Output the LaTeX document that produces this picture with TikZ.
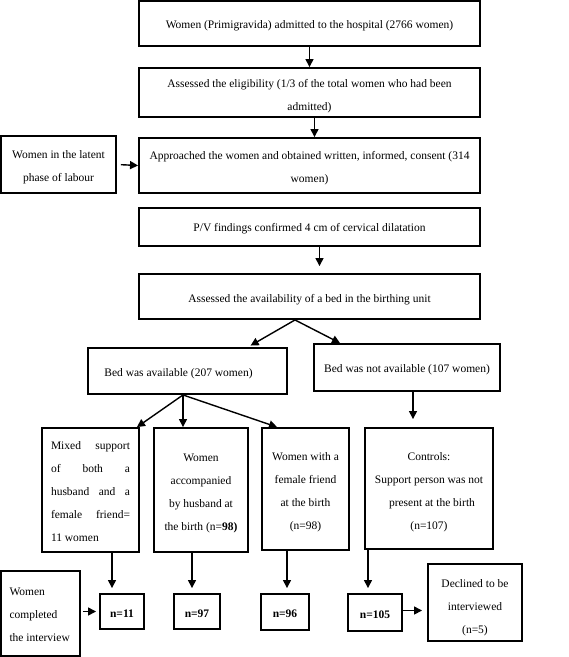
\documentclass[tikz,border=0pt]{standalone}
\usepackage{fontspec}
\setmainfont{Liberation Serif}
\usetikzlibrary{arrows.meta}
\newcommand{\mybox}[7][3pt]{%
  \pgfmathsetlengthmacro\bxw{(#5-#3-4)*1pt}%
  \node[box, minimum width={(#5-#3)*1pt}, minimum height={(#6-#4)*1pt}] (#2) at ({(#3+#5)/2},{(#4+#6)/2})
  {\raisebox{-#1}[\height][\depth]{\parbox{\bxw}{\centering #7}}};}
\newcommand{\jl}[1]{\makebox[79pt][s]{#1}}
\begin{document}
\begin{tikzpicture}[x=1pt,y=-1pt,
  box/.style={draw, line width=1.9pt, inner sep=0pt, align=center, font=\fontsize{11.5}{23}\selectfont},
  arr/.style={line width=1.4pt, -{Triangle[length=8pt,width=8pt]}}]
\useasboundingbox (0,0) rectangle (569,657);
\mybox[2pt]{b1}{139}{1}{480}{46}{Women (Primigravida) admitted to the hospital (2766 women)}
\mybox[4pt]{b2}{139}{68}{480}{117}{Assessed the eligibility (1/3 of the total women who had been\\ admitted)}
\mybox{b3}{139}{138}{480}{193}{Approached the women and obtained written, informed, consent (314\\ women)}
\mybox{lat}{1}{136}{116}{193}{Women in the latent\\ phase of labour}
\mybox[2pt]{b4}{139}{208}{480}{246}{P/V findings confirmed 4 cm of cervical dilatation}
\mybox{b5}{139}{274}{480}{319}{Assessed the availability of a bed in the birthing unit}
\mybox{bedy}{88}{348}{287}{394}{\hspace*{-18pt}Bed was available (207 women)}
\mybox[2pt]{bedn}{314}{344}{500}{391}{Bed was not available (107 women)}
\mybox[2pt]{mix}{42}{428}{139}{552}{\jl{Mixed\hfill support}\\ \jl{of\hfill both\hfill a}\\ \jl{husband\hfill and\hfill a}\\ \jl{female\hfill friend=}\\ \makebox[79pt][l]{11 women}}
\mybox{acc}{154}{428}{248}{552}{Women\\ accompanied\\ by husband at\\ the birth (n=\textbf{98)}}
\mybox{fri}{262}{428}{349}{550}{Women with a\\ female friend\\ at the birth\\ (n=98)}
\mybox[4pt]{ctl}{365}{428}{493}{549}{Controls:\\ Support person was not\\ \hspace*{6pt}present at the birth\\ (n=107)}
\mybox[1pt]{done}{1}{571}{80}{656}{\makebox[62pt][l]{Women}\\ \makebox[62pt][l]{completed}\\ \makebox[62pt][l]{the interview}}
\mybox[2pt]{n11}{100}{594}{144}{629}{\textbf{n=11}}
\mybox[2pt]{n97}{174}{594}{220}{629}{\textbf{n=97}}
\mybox[2pt]{n96}{261}{594}{309}{630}{\textbf{n=96}}
\mybox[2pt]{n105}{348}{594}{402}{631}{\textbf{n=105}}
\mybox[5pt]{dec}{428}{564}{522}{641}{Declined to be\\ interviewed\\ (n=5)}
% arrows
\draw[arr] (b1.south) -- (b2.north);
\draw[arr] ([xshift=5pt]b2.south) -- ([xshift=5pt]b3.north);
\draw[arr, shorten <=4pt] (lat.east) -- (b3.west);
\draw[arr, shorten >=7pt] ([xshift=10pt]b4.south) -- ([xshift=10pt]b5.north);
\draw[arr, shorten >=3pt] ([xshift=-14.5pt]b5.south) -- ([xshift=60.5pt]bedy.north);
\draw[arr] ([xshift=-14.5pt]b5.south) -- ([xshift=-67pt]bedn.north);
\draw[arr] ([xshift=-4.5pt]bedy.south) -- ([xshift=46.5pt]mix.north);
\draw[arr] ([xshift=-4.5pt]bedy.south) -- ([xshift=-18pt]acc.north);
\draw[arr] ([xshift=-4.5pt]bedy.south) -- ([xshift=-28.5pt]fri.north);
\draw[arr, shorten >=8pt] ([xshift=6pt]bedn.south) -- ([xshift=-16pt]ctl.north);
\draw[arr, shorten >=5pt] ([xshift=21.5pt]mix.south) -- ([xshift=-10pt]n11.north);
\draw[arr, shorten >=5pt] ([xshift=-9pt]acc.south) -- ([xshift=-5pt]n97.north);
\draw[arr, shorten >=5pt] ([xshift=-18.5pt]fri.south) -- ([xshift=2pt]n96.north);
\draw[arr, shorten >=5pt] ([xshift=-61pt]ctl.south) -- ([xshift=-7pt]n105.north);
\draw[arr, shorten <=2pt, shorten >=3pt] (done.east |- n11.west) -- (n11.west);
\draw[arr, shorten >=5pt] ([yshift=2pt]n105.east) -- ([yshift=2pt]n105.east -| dec.west);
\end{tikzpicture}
\end{document}
